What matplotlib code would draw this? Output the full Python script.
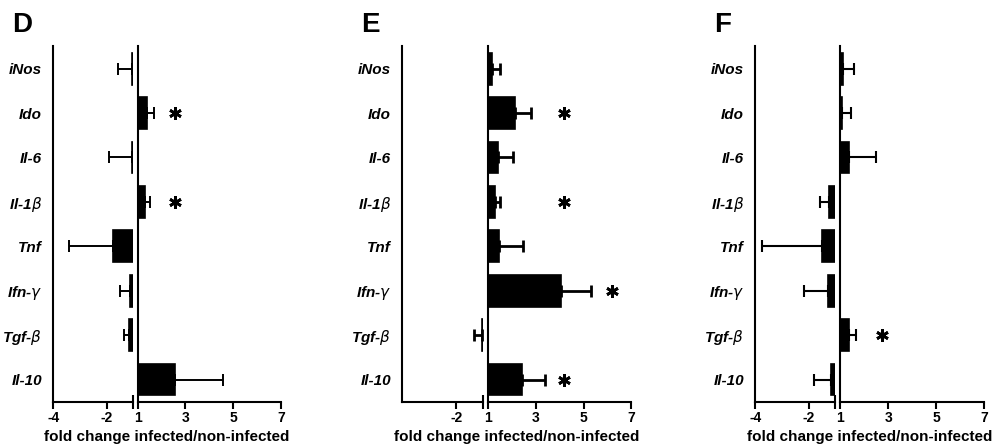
import matplotlib.pyplot as plt

plt.rcParams['font.family'] = ['Liberation Sans', 'DejaVu Sans']

# Данные
genes = ["iNos", "Ido", "Il-6", "Il-1$\\beta$", "Tnf", "Ifn-$\\gamma$", "Tgf-$\\beta$", "Il-10"]

fold_D = [-1.06, 1.38, -1.05, 1.31, -1.75, -1.12, -1.17, 2.56]
err_D = [0.50, 0.31, 0.88, 0.20, 1.66, 0.38, 0.18, 2.02]
stars_D = [1, 3]
star_x_D = [2.56, 2.56]

fold_E = [1.17, 2.12, 1.42, 1.28, 1.46, 4.07, -1.04, 2.43]
err_E = [0.32, 0.67, 0.63, 0.21, 1.00, 1.26, 0.30, 0.94]
stars_E = [1, 3, 5, 7]
star_x_E = [4.18, 4.18, 6.2, 4.18]

fold_F = [1.10, 1.06, 1.35, -1.22, -1.51, -1.26, 1.35, -1.16]
err_F = [0.48, 0.39, 1.14, 0.34, 2.24, 0.90, 0.30, 0.65]
stars_F = [6]
star_x_F = [2.74]

# буква, данные, подписи слева, границы осей в пикселях, толщина усов
panels = [
    ("D", fold_D, err_D, stars_D, star_x_D, [-4, -2], 53.3, 133.3, 137.7, 281.0, 1.4),
    ("E", fold_E, err_E, stars_E, star_x_E, [-2], 402.3, 483.0, 488.0, 631.3, 2.0),
    ("F", fold_F, err_F, stars_F, star_x_F, [-4, -2], 755.3, 835.3, 840.3, 984.3, 1.5),
]

W, H = 999, 446
fig = plt.figure(figsize=(W / 100, H / 100), dpi=100)

y_bot = 401.7
y_top = 46.5
bh = 0.72
ypos = list(range(len(genes)))

for letter, fold, err, stars, star_x, lticks, xa, xb, xc, xd, elw in panels:
    b = (H - y_bot) / H
    h = (y_bot - y_top) / H
    axl = fig.add_axes([xa / W, b, (xb - xa) / W, h])
    axr = fig.add_axes([xc / W, b, (xd - xc) / W, h])

    neg = [i for i, v in enumerate(fold) if v < 0]
    pos = [i for i, v in enumerate(fold) if v > 0]

    # отрицательные значения (левая часть оси)
    axl.barh([ypos[i] for i in neg], [fold[i] + 1 for i in neg], left=-1,
             height=bh, color='black', edgecolor='black', linewidth=1.2)
    axl.errorbar([fold[i] for i in neg], [ypos[i] for i in neg],
                 xerr=[[err[i] for i in neg], [0] * len(neg)],
                 fmt='none', ecolor='black', elinewidth=elw, capsize=4.5, capthick=elw)

    # положительные значения (правая часть оси)
    axr.barh([ypos[i] for i in pos], [fold[i] - 1 for i in pos], left=1,
             height=bh, color='black', edgecolor='black', linewidth=1.2)
    axr.errorbar([fold[i] for i in pos], [ypos[i] for i in pos],
                 xerr=[[0] * len(pos), [err[i] for i in pos]],
                 fmt='none', ecolor='black', elinewidth=elw, capsize=4.5, capthick=elw)

    # звёздочки
    axr.plot(star_x, [ypos[i] for i in stars], linestyle='none', marker=(6, 2, 0),
             ms=9, mew=2, color='black')

    for ax in (axl, axr):
        ax.set_ylim(len(genes) - 0.5, -0.5)
        for s in ('top', 'right'):
            ax.spines[s].set_visible(False)
        ax.spines['left'].set_linewidth(1.5)
        ax.spines['bottom'].set_linewidth(1.5)
        ax.patch.set_alpha(0)
        ax.tick_params(axis='x', direction='out', length=5, width=1.5, pad=2)

    axl.set_xlim(-4, -1)
    axl.set_xticks(lticks)
    axl.set_xticklabels([str(t) for t in lticks], fontweight='bold', fontsize=10)
    axl.set_xticks([-1], minor=True)
    axl.tick_params(axis='x', which='minor', direction='inout', length=10, width=1.5)
    axl.set_yticks(ypos)
    axl.set_yticklabels(genes, fontweight='bold', fontstyle='italic', fontsize=11)
    axl.tick_params(axis='y', length=0, pad=8)

    axr.set_xlim(1, 7)
    axr.set_xticks([1, 3, 5, 7])
    axr.set_xticklabels(['1', '3', '5', '7'], fontweight='bold', fontsize=10)
    axr.set_yticks([])

    # подпись оси
    xm = (xa + xd) / 2 / W
    fig.text(xm, (H - 437) / H, "fold change infected/non-infected",
             ha='center', va='center', fontsize=11, fontweight='bold')

    # буква панели
    fig.text((xa - 41) / W, (H - 12) / H, letter, ha='left', va='top',
             fontsize=20, fontweight='bold')

fig.savefig("out.png", dpi=100)
